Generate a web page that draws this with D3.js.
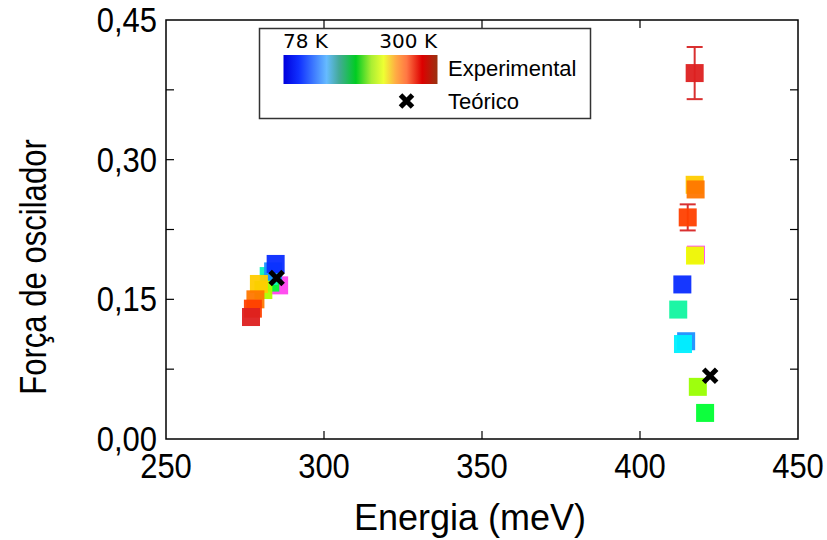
<!DOCTYPE html>
<html>
<head>
<meta charset="utf-8">
<script src="https://cdn.jsdelivr.net/npm/d3@7"></script>
<style>
  html, body { margin: 0; padding: 0; background: #fff; }
  svg { display: block; font-family: "Liberation Sans", Arial, sans-serif; }
</style>
</head>
<body>
<svg id="chart" width="827" height="540"></svg>
<script>
// Measured oscillator strengths, low-energy transition (meV, dimensionless, K)
const lowEnergy   = [285.8, 283.0, 282.5, 283.9, 284.7, 280.8, 279.4, 278.3, 277.5, 276.9];
const lowStrength = [0.165, 0.168, 0.175, 0.180, 0.188, 0.160, 0.1665, 0.150, 0.140, 0.131];
const lowTemp     = [60, 170, 145, 115, 78, 195, 230, 250, 270, 300];

// Measured oscillator strengths, high-energy transition
const highEnergy   = [417.7, 413.4, 414.6, 413.6, 412.1, 420.6, 418.3, 417.4, 417.3, 417.6, 415.1, 417.3];
const highStrength = [0.198, 0.166, 0.105, 0.102, 0.139, 0.028, 0.056, 0.197, 0.273, 0.268, 0.238, 0.393];
const highTemp     = [60, 78, 115, 130, 150, 170, 190, 210, 230, 250, 270, 300];
const highError    = [0, 0, 0, 0, 0, 0, 0, 0, 0, 0, 0.014, 0.028];

// Calculated values
const theoryEnergy   = [285.0, 422.2];
const theoryStrength = [0.173, 0.068];

// Axis ticks
const xTicks = [250, 300, 350, 400, 450];
const yTicks = [0, 0.15, 0.30, 0.45];
const yMinorTicks = [0.075, 0.15, 0.225, 0.30, 0.375];
const legendTemps = ["78 K", "300 K"];

const svg = d3.select("#chart");
const plotLeft = 166, plotRight = 798, plotTop = 20, plotBottom = 439;

const x = d3.scaleLinear().domain([250, 450]).range([plotLeft, plotRight]);
const y = d3.scaleLinear().domain([0, 0.45]).range([plotBottom, plotTop]);

// Temperature colour map for the measured points
const tempColor = d3.scaleLinear()
  .domain([60, 78, 115, 130, 150, 170, 190, 210, 230, 250, 270, 300])
  .range(["#ff44ee", "#0a2cff", "#1a90ff", "#00f0ff", "#11f5a0", "#00ff33",
          "#99ff00", "#eeff00", "#ffcc00", "#ff7700", "#ff4000", "#dd2020"])
  .clamp(true);

// Frame
svg.append("rect")
  .attr("x", plotLeft).attr("y", plotTop)
  .attr("width", plotRight - plotLeft).attr("height", plotBottom - plotTop)
  .attr("fill", "none").attr("stroke", "#000").attr("stroke-width", 1.5);

// Inward ticks on all four sides
const tickLen = 8;
const inner = xTicks.slice(1, -1);
const tickG = svg.append("g").attr("stroke", "#000").attr("stroke-width", 1.2);
inner.forEach(v => {
  tickG.append("line").attr("x1", x(v)).attr("x2", x(v)).attr("y1", plotBottom).attr("y2", plotBottom - tickLen);
  tickG.append("line").attr("x1", x(v)).attr("x2", x(v)).attr("y1", plotTop).attr("y2", plotTop + tickLen);
});
yMinorTicks.forEach(v => {
  tickG.append("line").attr("x1", plotLeft).attr("x2", plotLeft + tickLen).attr("y1", y(v)).attr("y2", y(v));
  tickG.append("line").attr("x1", plotRight).attr("x2", plotRight - tickLen).attr("y1", y(v)).attr("y2", y(v));
});

// Tick labels (slightly tall, narrow lettering)
const fmt = d3.format(".2f");
svg.append("g").selectAll("text").data(xTicks).join("text")
  .attr("transform", d => `translate(${x(d)},478) scale(1,1.12)`)
  .attr("text-anchor", "middle")
  .attr("font-size", 31)
  .text(d => d);
svg.append("g").selectAll("text").data(yTicks).join("text")
  .attr("transform", d => `translate(157,${y(d) + 12}) scale(1,1.12)`)
  .attr("text-anchor", "end")
  .attr("font-size", 31)
  .text(d => fmt(d).replace(".", ","));

// Axis titles
svg.append("text")
  .attr("x", 470).attr("y", 530)
  .attr("text-anchor", "middle").attr("font-size", 36)
  .text("Energia (meV)");
svg.append("text")
  .attr("transform", "translate(46,267) rotate(-90) scale(0.84,1)")
  .attr("text-anchor", "middle").attr("font-size", 37)
  .text("Força de oscilador");

// Measured points
const half = 9;
function drawSeries(es, fs, ts, errs) {
  const rows = es.map((e, i) => ({ e, f: fs[i], t: ts[i], err: errs ? errs[i] : 0 }));
  const g = svg.append("g");
  rows.forEach(r => {
    if (r.err > 0) {
      const c = "#d93030";
      const cx = x(r.e);
      g.append("line").attr("x1", cx).attr("x2", cx)
        .attr("y1", y(r.f - r.err)).attr("y2", y(r.f + r.err))
        .attr("stroke", c).attr("stroke-width", 2);
      [r.f - r.err, r.f + r.err].forEach(v => {
        g.append("line").attr("x1", cx - 8).attr("x2", cx + 8)
          .attr("y1", y(v)).attr("y2", y(v))
          .attr("stroke", c).attr("stroke-width", 2);
      });
    }
    g.append("rect")
      .attr("x", x(r.e) - half).attr("y", y(r.f) - half)
      .attr("width", 2 * half).attr("height", 2 * half)
      .attr("fill", tempColor(r.t))
      .attr("fill-opacity", 0.95);
  });
}
drawSeries(lowEnergy, lowStrength, lowTemp, null);
drawSeries(highEnergy, highStrength, highTemp, highError);

// Calculated values as bold crosses
function cross(g, cx, cy, s) {
  g.append("path")
    .attr("d", `M${cx - s},${cy - s}L${cx + s},${cy + s}M${cx - s},${cy + s}L${cx + s},${cy - s}`)
    .attr("stroke", "#000").attr("stroke-width", 5).attr("fill", "none");
}
const tg = svg.append("g");
theoryEnergy.forEach((e, i) => cross(tg, x(e), y(theoryStrength[i]), 6.5));

// Legend
const lg = svg.append("g");
lg.append("rect")
  .attr("x", 259.5).attr("y", 28.5).attr("width", 331).attr("height", 90)
  .attr("fill", "#fff").attr("stroke", "#333").attr("stroke-width", 1.5);

const defs = svg.append("defs");
const grad = defs.append("linearGradient").attr("id", "tempGrad")
  .attr("x1", "0%").attr("x2", "100%").attr("y1", "0%").attr("y2", "0%");
[
  [0, "#0000dd"], [0.1, "#1030ff"], [0.28, "#66bbff"], [0.36, "#44aa99"],
  [0.47, "#00cc22"], [0.57, "#aaee33"], [0.65, "#eeff33"], [0.73, "#ffaa44"],
  [0.8, "#ff7744"], [0.9, "#dd0000"], [1, "#993311"]
].forEach(([o, c]) => grad.append("stop").attr("offset", o).attr("stop-color", c));

lg.append("rect")
  .attr("x", 283.5).attr("y", 55).attr("width", 154).attr("height", 29)
  .attr("fill", "url(#tempGrad)");

lg.append("text").attr("x", 283).attr("y", 48).attr("font-size", 20)
  .attr("font-family", "'DejaVu Sans', sans-serif")
  .text(legendTemps[0]);
lg.append("text").attr("x", 437).attr("y", 48).attr("font-size", 20)
  .attr("text-anchor", "end")
  .attr("font-family", "'DejaVu Sans', sans-serif")
  .text(legendTemps[1]);

lg.append("text").attr("x", 448).attr("y", 76).attr("font-size", 22)
  .text("Experimental");
cross(lg, 406.5, 101, 6);
lg.append("text").attr("x", 448).attr("y", 109).attr("font-size", 22)
  .text("Teórico");
</script>
</body>
</html>
